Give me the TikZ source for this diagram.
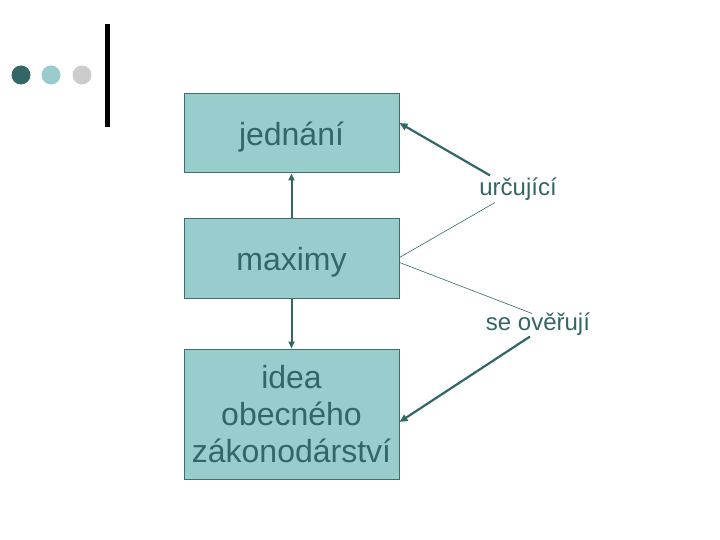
\documentclass[tikz,border=0pt]{standalone}
\usepackage{fontspec}
\setmainfont{Liberation Sans}
\usepackage{tikz}
\usetikzlibrary{arrows.meta}

\definecolor{tealdark}{RGB}{51,102,102}
\definecolor{tealbox}{RGB}{153,204,204}
\definecolor{tealline}{RGB}{62,110,110}
\definecolor{dotgrey}{RGB}{204,204,204}

\tikzset{
    pojem/.style={draw=tealline, line width=1bp, fill=tealbox, text=tealdark,
      minimum width=215bp, minimum height=79bp, align=center, inner sep=0pt,
      font=\fontsize{32bp}{37bp}\selectfont},
    radek/.style={text height=31bp, text depth=6bp},
    popis/.style={text=tealdark, inner sep=0pt, font=\fontsize{24bp}{28bp}\selectfont},
    sipka/.style={draw=tealdark, line width=2bp, -{Triangle[length=7bp,width=6bp]}},
    silna/.style={draw=tealdark, line width=2.2bp, -{Triangle[length=8bp,width=7bp]}},
    tenka/.style={draw=tealdark, line width=0.6bp}
}

\begin{document}
\begin{tikzpicture}[x=1bp, y=-1bp]
    \useasboundingbox (0,0) rectangle (720,540);
    % hlavicka
    \foreach \x/\c in {21/tealdark,51/tealbox,82/dotgrey}
    \fill[\c] (\x,75) circle (9.5bp);
    \draw[line width=4.5bp] (107.5,24) -- (107.5,127);

    \node[pojem, radek] (jed) at (291.5,133.5) {jednání};
    \node[pojem, radek] (max) at (291.5,258.5) {maximy};
    \node[pojem, minimum height=130bp] (idea) at (291.5,414)
      {idea\\obecného\\zákonodárství};

    \node[popis] (urc) at (518,189) {určující};
    \node[popis] (over) at (538,324) {se ověřují};

    \draw[sipka] (max.north) -- (jed.south);
    \draw[sipka] (max.south) -- (idea.north);

    \draw[silna] ([xshift=11bp,yshift=2bp]urc.north west) -- ([yshift=10.5bp]jed.east);
    \draw[tenka] ([yshift=1bp]max.east) -- ([xshift=-23bp,yshift=-2bp]urc.south);
    \draw[tenka] ([yshift=-4bp]max.east) -- ([xshift=-6bp,yshift=-1bp]over.north);
    \draw[silna] ([xshift=-8bp,yshift=-1bp]over.south) -- ([yshift=-8bp]idea.east);
\end{tikzpicture}
\end{document}
